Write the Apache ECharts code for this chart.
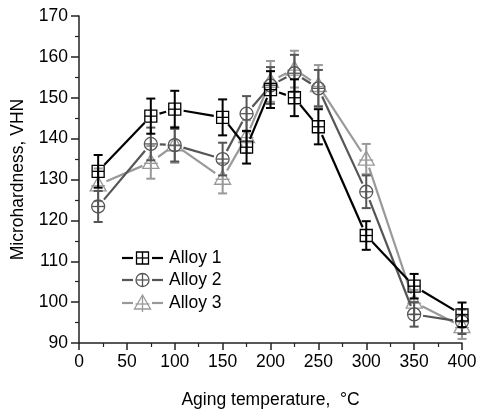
<!DOCTYPE html>
<html>
<head>
<meta charset="utf-8">
<script src="https://cdn.jsdelivr.net/npm/echarts@6/dist/echarts.min.js"></script>
<style>
html,body{margin:0;padding:0;background:#fff;}
#chart{width:482px;height:411px;}
</style>
</head>
<body>
<div id="chart"></div>
<script>
// aging temperatures
var temps = [20, 75, 100, 150, 175, 200, 225, 250, 300, 350, 400];

var alloy1 = [132, 145.5, 147.2, 145.2, 137.9, 152, 150, 142.9, 116.3, 103.9, 96.9];
var err1   = [4, 4.3, 4.5, 4.4, 4, 4.5, 4.5, 4.3, 3.5, 3, 3];
var alloy2 = [123.4, 138.7, 138.4, 135, 146.1, 153, 156, 152.3, 127, 97, 95.2];
var err2   = [3.8, 4, 4, 4, 4.3, 4.5, 4.5, 4.5, 4, 3, 3];
var alloy3 = [128.7, 134.2, 138.5, 130.3, 140.5, 154, 157, 153, 135, 100, 94];
var err3   = [4, 4, 4.4, 3.7, 4, 5, 4.5, 5, 3.7, 3, 3];

var names = ['Alloy 1', 'Alloy 2', 'Alloy 3'];
var colors = ['#000000', '#555555', '#999999'];
var shapes = ['square', 'circle', 'triangle'];

var FONT = 'Liberation Sans, Arial, sans-serif';

function markerShapes(shape, cx, cy, color){
	var r = 6;
	var st = {stroke: color, fill: 'rgba(255,255,255,0)', lineWidth: 1.3};
	var out = [];
	if(shape == 'square'){
		out.push({type:'rect', shape:{x:cx-r, y:cy-r, width:2*r, height:2*r}, style:st});
		out.push({type:'line', shape:{x1:cx-r, y1:cy, x2:cx+r, y2:cy}, style:st});
		out.push({type:'line', shape:{x1:cx, y1:cy-r, x2:cx, y2:cy+r}, style:st});
	} else if(shape == 'circle'){
		out.push({type:'circle', shape:{cx:cx, cy:cy, r:r+0.5}, style:st});
		out.push({type:'line', shape:{x1:cx-r, y1:cy, x2:cx+r, y2:cy}, style:st});
		out.push({type:'line', shape:{x1:cx, y1:cy-r, x2:cx, y2:cy+r}, style:st});
	} else {
		var h = 7;
		out.push({type:'polygon', shape:{points:[[cx, cy-h-1], [cx+h+1, cy+h-1], [cx-h-1, cy+h-1]]}, style:st});
		out.push({type:'line', shape:{x1:cx-h, y1:cy+1, x2:cx+h, y2:cy+1}, style:st});
		out.push({type:'line', shape:{x1:cx, y1:cy-h, x2:cx, y2:cy+h+2}, style:st});
	}
	return out;
}

function makeSeries(k, vals, errs){
	var color = colors[k];
	var data = temps.map(function(t, i){ return [t, vals[i], errs[i], i]; });
	return {
		name: names[k],
		type: 'custom',
		data: data,
		z: 10 - k,
		clip: false,
		encode: {x: 0, y: 1},
		renderItem: function(params, api){
			var i = api.value(3);
			var p = api.coord([api.value(0), api.value(1)]);
			var top = api.coord([api.value(0), api.value(1) + api.value(2)]);
			var bot = api.coord([api.value(0), api.value(1) - api.value(2)]);
			var cw = 4.5;
			var ls = {stroke: color, lineWidth: 2};
			var kids = [];
			// segment to next point, with gaps at the markers
			if(i < temps.length - 1){
				var q = api.coord([temps[i+1], vals[i+1]]);
				var dx = q[0]-p[0], dy = q[1]-p[1];
				var len = Math.sqrt(dx*dx+dy*dy);
				var g = 9;
				if(len > 2*g){
					kids.push({type:'line', shape:{
						x1: p[0]+dx/len*g, y1: p[1]+dy/len*g,
						x2: q[0]-dx/len*g, y2: q[1]-dy/len*g
					}, style:{stroke:color, lineWidth:2.2}});
				}
			}
			// error bar
			kids.push({type:'line', shape:{x1:p[0], y1:top[1], x2:p[0], y2:bot[1]}, style:ls});
			kids.push({type:'line', shape:{x1:p[0]-cw, y1:top[1], x2:p[0]+cw, y2:top[1]}, style:ls});
			kids.push({type:'line', shape:{x1:p[0]-cw, y1:bot[1], x2:p[0]+cw, y2:bot[1]}, style:ls});
			kids = kids.concat(markerShapes(shapes[k], p[0], p[1], color));
			return {type:'group', children:kids};
		}
	};
}

// legend drawn as graphic
var legendItems = [];
var legendY = [258, 280, 303];
for(var k = 0; k < 3; k++){
	var y = legendY[k];
	legendItems.push({type:'line', shape:{x1:122, y1:y, x2:133, y2:y}, style:{stroke:colors[k], lineWidth:2.2}});
	legendItems.push({type:'line', shape:{x1:152, y1:y, x2:163, y2:y}, style:{stroke:colors[k], lineWidth:2.2}});
	legendItems = legendItems.concat(markerShapes(shapes[k], 142.5, y, colors[k]));
	legendItems.push({type:'text', x:169, y:y, style:{text:names[k], font:'17.5px ' + FONT, fill:'#000', textVerticalAlign:'middle'}});
}

var chart = echarts.init(document.getElementById('chart'));
chart.setOption({
	animation: false,
	backgroundColor: '#fff',
	grid: {left: 79, right: 20, top: 16, bottom: 68, outerBoundsMode: 'none', containLabel: false},
	xAxis: {
		type: 'value', min: 0, max: 400, interval: 50,
		name: 'Aging temperature,  °C', nameLocation: 'middle', nameGap: 48,
		nameTextStyle: {fontSize: 17.5, color: '#000', fontFamily: FONT},
		axisLine: {onZero: false, lineStyle: {color: '#222', width: 1.5}},
		axisTick: {show: true, length: 7, lineStyle: {color: '#222', width: 1.5}},
		minorTick: {show: true, splitNumber: 2, length: 4, lineStyle: {color: '#222', width: 1.2}},
		axisLabel: {fontSize: 17.5, color: '#000', fontFamily: FONT, margin: 10},
		splitLine: {show: false}
	},
	yAxis: {
		type: 'value', min: 90, max: 170, interval: 10,
		name: 'Microhardness, VHN', nameLocation: 'middle', nameGap: 52,
		nameTextStyle: {fontSize: 17.5, color: '#000', fontFamily: FONT},
		axisLine: {show: true, onZero: false, lineStyle: {color: '#222', width: 1.5}},
		axisTick: {show: true, length: 8, lineStyle: {color: '#222', width: 1.5}},
		minorTick: {show: true, splitNumber: 2, length: 4, lineStyle: {color: '#222', width: 1.2}},
		axisLabel: {fontSize: 17.5, color: '#000', fontFamily: FONT, margin: 11},
		splitLine: {show: false}
	},
	graphic: legendItems,
	series: [
		makeSeries(2, alloy3, err3),
		makeSeries(1, alloy2, err2),
		makeSeries(0, alloy1, err1)
	]
});
</script>
</body>
</html>
